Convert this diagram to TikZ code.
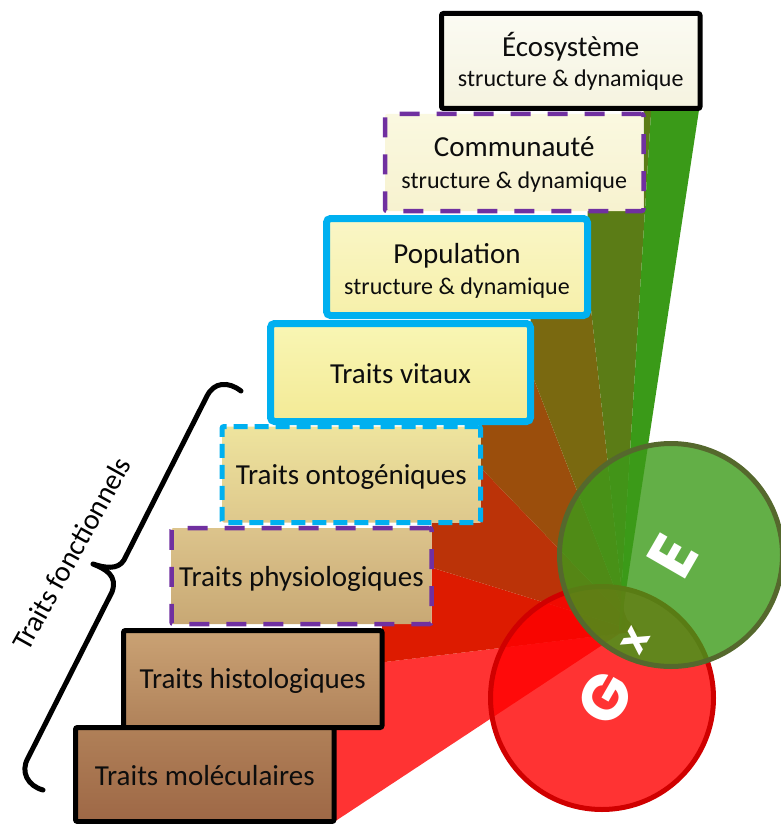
\documentclass[tikz,border=0pt]{standalone}
\usepackage{fontspec}
\setmainfont{Carlito}
\newfontfamily\gxefont{Poppins}
\usetikzlibrary{calc}
\definecolor{cyanc}{RGB}{0,176,240}
\definecolor{purp}{RGB}{112,48,160}
\definecolor{wA}{RGB}{255,51,51}
\definecolor{wB}{RGB}{221,27,0}
\definecolor{wC}{RGB}{187,51,8}
\definecolor{wD}{RGB}{155,78,12}
\definecolor{wE}{RGB}{122,105,16}
\definecolor{wF}{RGB}{91,124,22}
\definecolor{wG}{RGB}{58,154,24}
\definecolor{redc}{RGB}{255,0,0}
\definecolor{redb}{RGB}{208,0,0}
\definecolor{grnc}{RGB}{60,155,25}
\definecolor{grnb}{RGB}{85,104,45}
\begin{document}
\begin{tikzpicture}[x=1pt,y=-1pt,
  box/.style={rectangle, minimum width=259pt, minimum height=96pt, inner sep=0pt, rounded corners=2pt},
  blackbox/.style={box, draw=black, line width=5pt},
  cyanbox/.style={box, draw=cyanc, line width=7pt, rounded corners=4pt},
  cyandash/.style={box, draw=cyanc, line width=5pt, dash pattern=on 14pt off 7pt},
  purpdash/.style={box, draw=purp, line width=4.5pt, dash pattern=on 20pt off 17pt},
  maintxt/.style={anchor=base, inner sep=0pt, text=black!95, font=\fontsize{29}{30}\selectfont},
  subtxt/.style={anchor=base, inner sep=0pt, text=black!95, font=\fontsize{24}{26}\selectfont},
  bigletter/.style={text=white, inner sep=0pt, rotate=60, font=\gxefont\bfseries\fontsize{64}{66}\selectfont}
]
\useasboundingbox (0,0) rectangle (780,824);

% wedge geometry
\coordinate (P0) at (334,822); \coordinate (A0) at (625,630);
\coordinate (P1) at (385,662); \coordinate (A1) at (640,631);
\coordinate (P2) at (433,568); \coordinate (A2) at (633,630);
\coordinate (P3) at (480,467); \coordinate (A3) at (637,630);
\coordinate (P4) at (533,377); \coordinate (A4) at (631,630);
\coordinate (P5) at (592,318); \coordinate (A5) at (626,630);
\coordinate (P6) at (645,210); \coordinate (A6) at (619,630);
\coordinate (P7) at (699,110); \coordinate (A7) at (620,630);

\begin{scope}
\clip (334,830) -- (334,727.5) -- (382,727.5) -- (382,624) -- (431.5,624) -- (431.5,522.5)
  -- (480.5,522.5) -- (480.5,421.5) -- (530.5,421.5) -- (530.5,315.5) -- (587.5,315.5)
  -- (587.5,211) -- (643.5,211) -- (643.5,108.5) -- (790,108.5) -- (790,830) -- cycle;
\fill[wA] ($(A0)!1.8!(P0)$) -- (A0) -- (A1) -- ($(A1)!1.8!(P1)$) -- cycle;
\fill[wB] ($(A1)!1.8!(P1)$) -- (A1) -- (A2) -- ($(A2)!1.8!(P2)$) -- cycle;
\fill[wC] ($(A2)!1.8!(P2)$) -- (A2) -- (A3) -- ($(A3)!1.8!(P3)$) -- cycle;
\fill[wD] ($(A3)!1.8!(P3)$) -- (A3) -- (A4) -- ($(A4)!1.8!(P4)$) -- cycle;
\fill[wE] ($(A4)!1.8!(P4)$) -- (A4) -- (A5) -- ($(A5)!1.8!(P5)$) -- cycle;
\fill[wF] ($(A5)!1.8!(P5)$) -- (A5) -- (A6) -- ($(A6)!1.8!(P6)$) -- cycle;
\fill[wG] ($(A6)!1.8!(P6)$) -- (A6) -- (A7) -- ($(A7)!1.8!(P7)$) -- cycle;
\end{scope}

% boxes
\node[blackbox, minimum width=258.5pt, minimum height=95pt, top color={rgb,255:red,251;green,251;blue,243}, bottom color={rgb,255:red,245;green,243;blue,223}] (eco) at (570.75,61) {};
\node[purpdash, minimum width=258.5pt, minimum height=97pt, top color={rgb,255:red,250;green,248;blue,224}, bottom color={rgb,255:red,247;green,242;blue,207}] (comm) at (514.25,162.5) {};
\node[cyanbox, minimum width=261pt, minimum height=97pt, top color={rgb,255:red,250;green,246;blue,198}, bottom color={rgb,255:red,246;green,240;blue,170}] (pop) at (457,267) {};
\node[cyanbox, minimum width=260pt, minimum height=98pt, top color={rgb,255:red,249;green,246;blue,180}, bottom color={rgb,255:red,243;green,234;blue,150}] (vit) at (400.5,372.5) {};
\node[cyandash, minimum width=258.5pt, minimum height=96pt, top color={rgb,255:red,238;green,228;blue,158}, bottom color={rgb,255:red,222;green,200;blue,140}] (onto) at (351.25,474.5) {};
\node[purpdash, minimum width=260pt, minimum height=96pt, top color={rgb,255:red,220;green,196;blue,140}, bottom color={rgb,255:red,200;green,168;blue,116}] (phys) at (301.5,576) {};
\node[blackbox, minimum width=258.5pt, minimum height=97pt, top color={rgb,255:red,202;green,162;blue,116}, bottom color={rgb,255:red,176;green,130;blue,90}] (histo) at (252.75,679) {};
\node[blackbox, minimum width=258.5pt, minimum height=94pt, top color={rgb,255:red,176;green,128;blue,88}, bottom color={rgb,255:red,158;green,104;blue,70}] (mol) at (204.75,774.5) {};

% texts
\node[maintxt] (ecoT) at (570.75,57) {Écosystème};
\node[subtxt] (ecoS) at (570.75,87) {structure \& dynamique};
\node[maintxt] (commT) at (514.25,156.5) {Communauté};
\node[subtxt] (commS) at (514.25,188) {structure \& dynamique};
\node[maintxt] (popT) at (457,263) {Population};
\node[subtxt] (popS) at (457,294) {structure \& dynamique};
\node[maintxt] (vitT) at (400.5,383) {Traits vitaux};
\node[maintxt] (ontoT) at (351.25,484) {Traits ontogéniques};
\node[maintxt] (physT) at (301.5,586) {Traits physiologiques};
\node[maintxt] (histoT) at (252.75,688) {Traits histologiques};
\node[maintxt] (molT) at (204.75,785.5) {Traits moléculaires};

% brace and label
\draw[line width=5pt, line cap=round, line join=round]
  (241,391) .. controls (228,381) and (214,382) .. (207,396) -- (124,560)
  .. controls (118,570) and (105,568) .. (93,564)
  .. controls (105,569) and (118,575) .. (112,592) -- (28,758)
  .. controls (20,772) and (28,786) .. (43,790);
\node[rotate=61, inner sep=0pt, font=\fontsize{29}{30}\selectfont] (tf) at (71.5,553.5) {Traits fonctionnels};

% circles
\fill[redc, fill opacity=0.8] (602,698) circle (111.5);
\draw[redb, line width=5pt] (602,698) circle (111.5);
\fill[grnc, fill opacity=0.8] (671,555) circle (111.5);
\draw[grnb, line width=5pt] (671,555) circle (111.5);

\node[bigletter] (G) at (605,698) {G};
\node[bigletter, font=\gxefont\bfseries\fontsize{40}{42}\selectfont] (X) at (636,641) {x};
\node[bigletter] (E) at (673,556) {E};
\end{tikzpicture}
\end{document}
